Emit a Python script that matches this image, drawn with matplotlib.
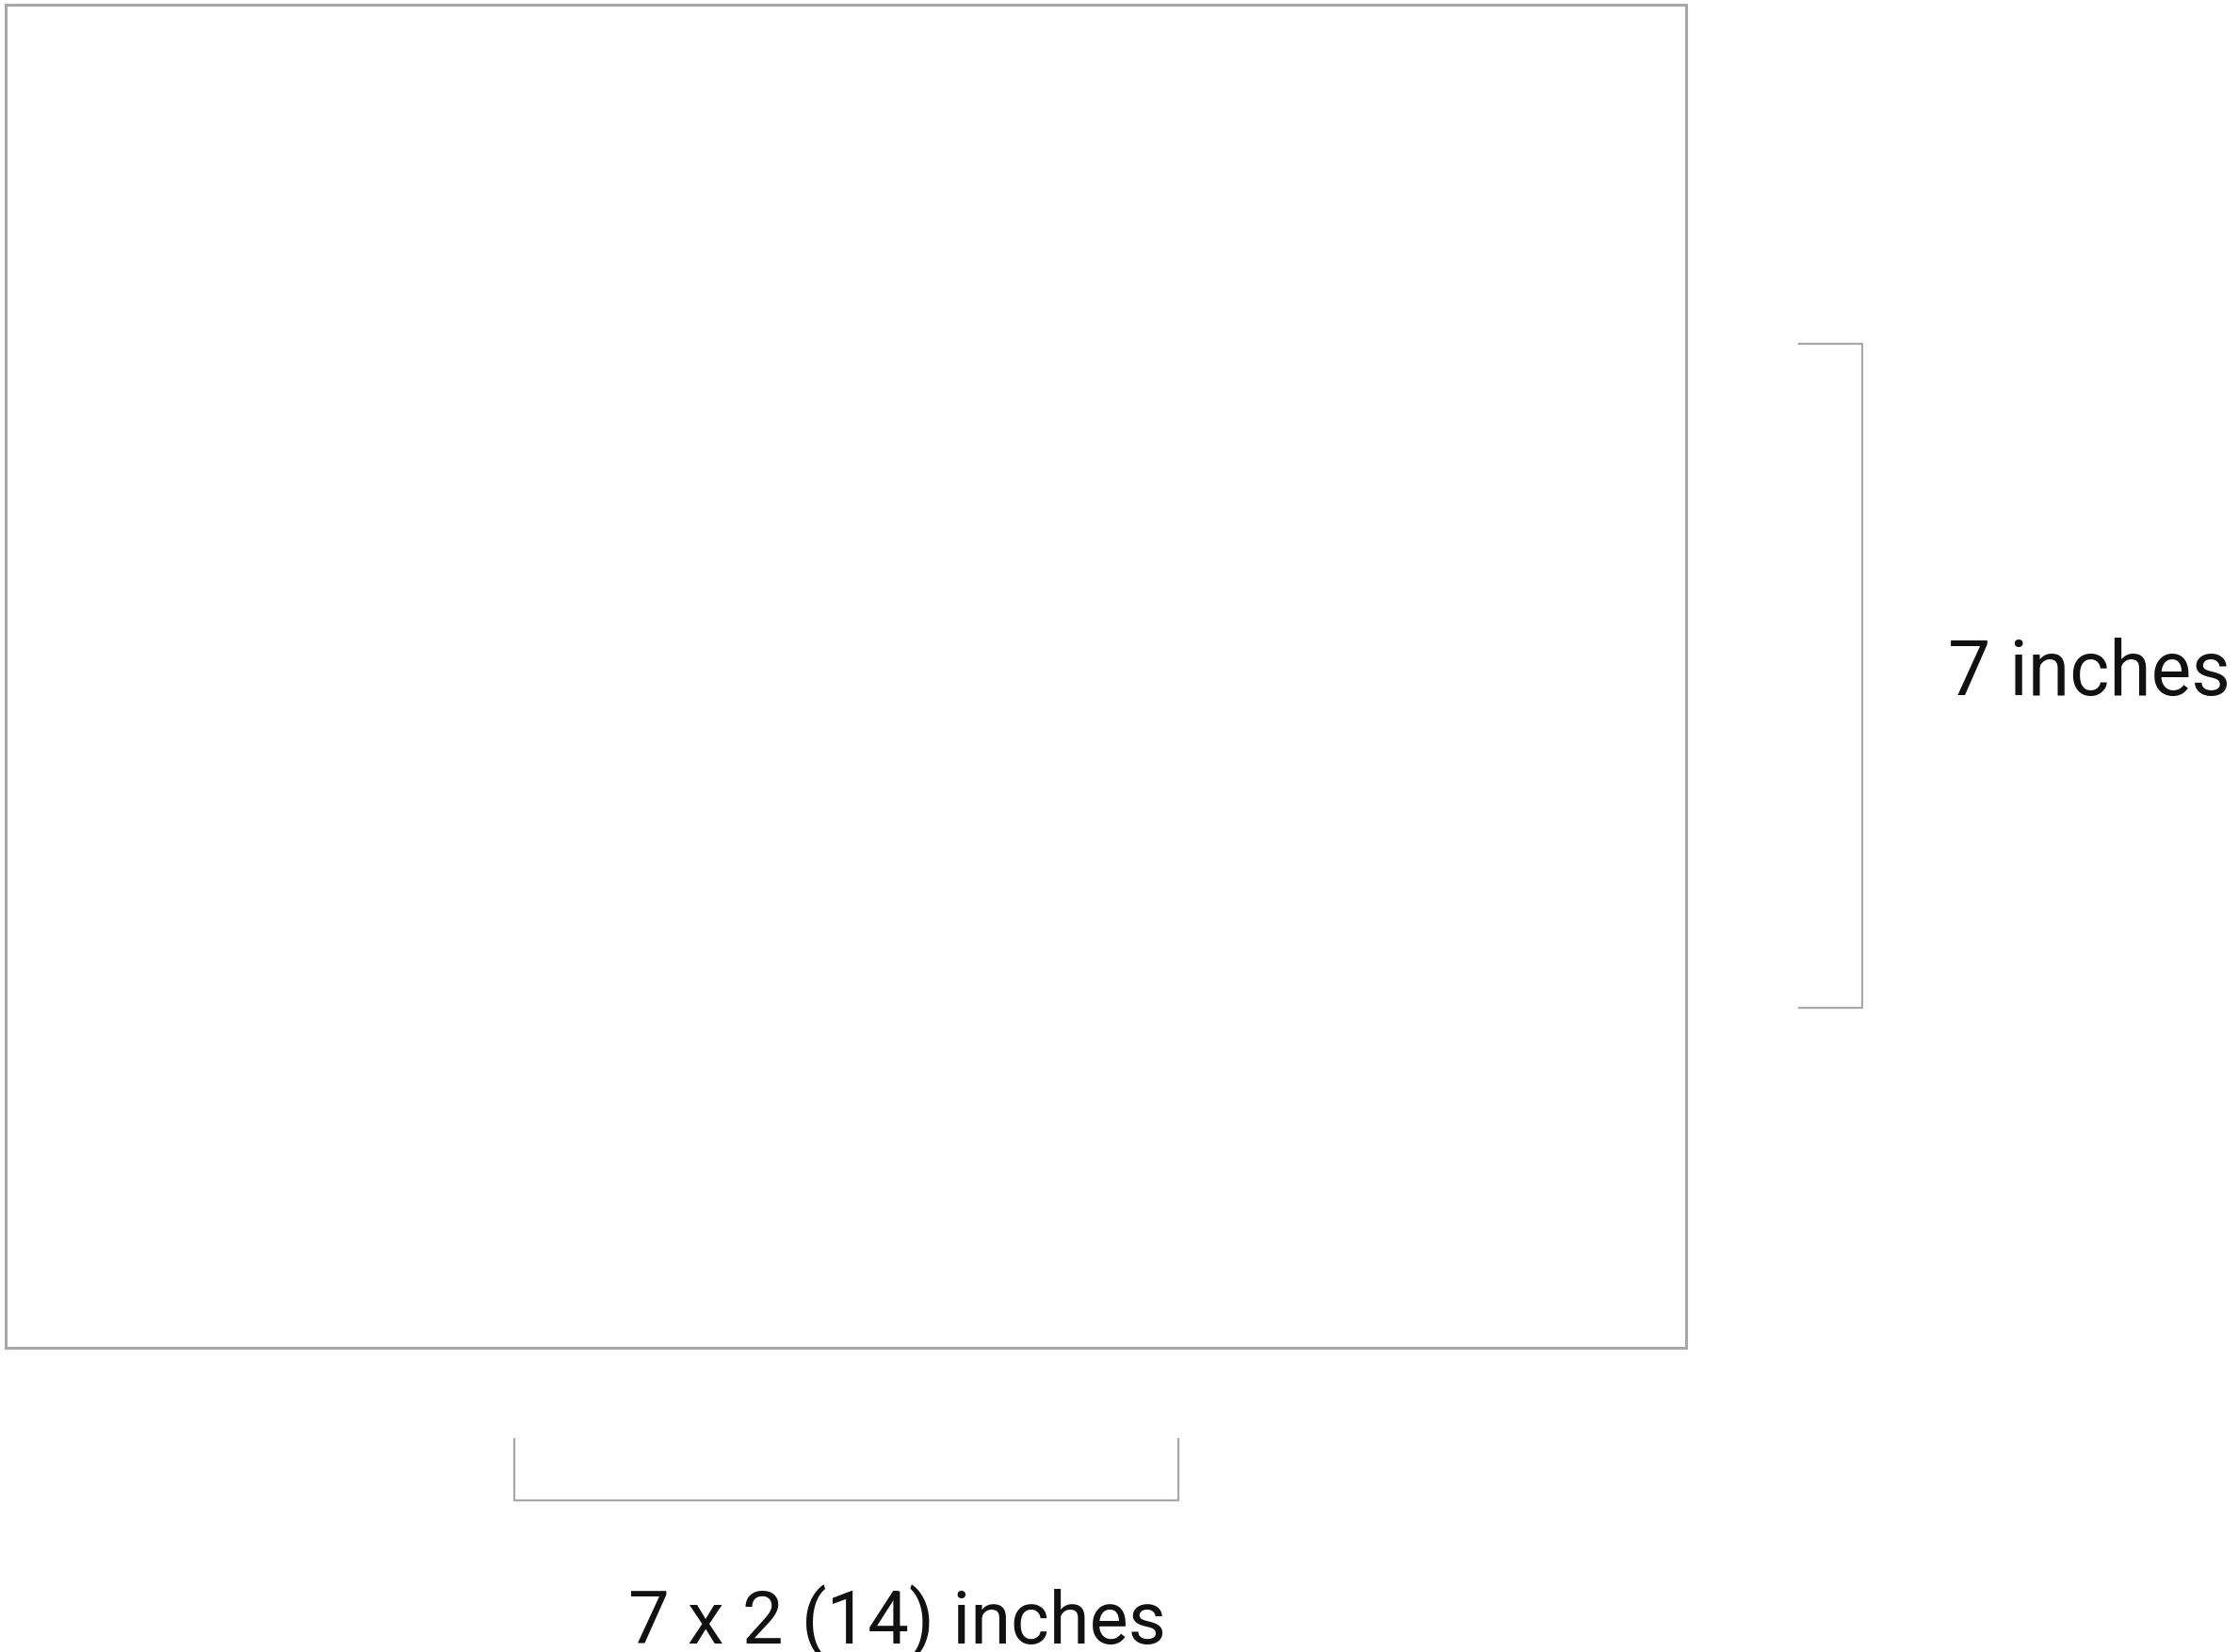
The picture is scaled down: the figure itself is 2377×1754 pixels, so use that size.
import matplotlib
matplotlib.use('Agg')
import matplotlib.pyplot as plt

# Dimension labels and sizes
height_label = '7 inches'
width_label = '7 x 2 (14) inches'
panel_inches = [7, 7]

W, H = 2377, 1754
fig = plt.figure(figsize=(W / 100, H / 100), dpi=100)
ax = fig.add_axes([0, 0, 1, 1])
ax.set_xlim(0, W)
ax.set_ylim(H, 0)
ax.axis('off')

grey = '#a8a8a8'

# outer frame
ax.plot([6, 1790, 1790, 6, 6], [5, 5, 1431, 1431, 5], color=grey, lw=2.2, solid_joinstyle='miter')

# right bracket (height)
ax.plot([1910, 1977, 1977, 1910], [365, 365, 1070, 1070], color=grey, lw=1.6)
ax.text(2368, 738, height_label, ha='right', va='baseline',
        fontsize=58, family='Roboto', fontweight='normal', color='#111111')

# bottom bracket (width)
ax.plot([546, 546, 1251, 1251], [1528, 1593, 1593, 1528], color=grey, lw=1.6)
ax.text(952, 1745, width_label, ha='center', va='baseline',
        fontsize=56, family='Roboto', fontweight='normal', color='#111111')

fig.savefig('out.png', dpi=100)
